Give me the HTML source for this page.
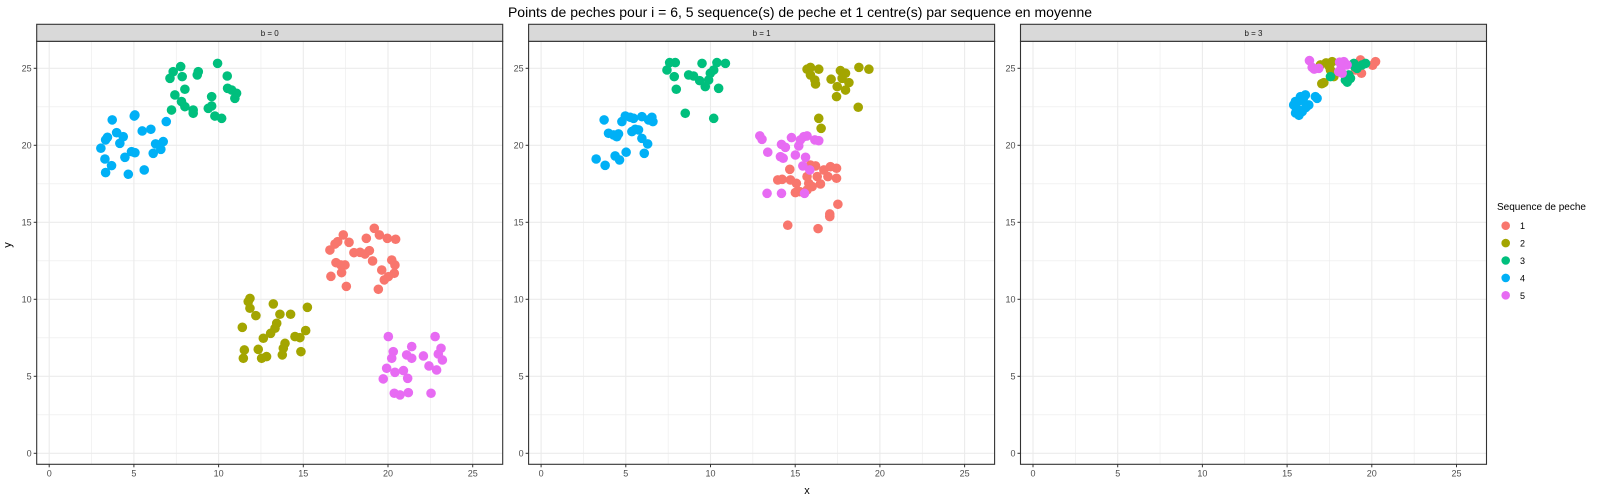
<!DOCTYPE html>
<html><head><meta charset="utf-8"><style>
html,body{margin:0;padding:0;background:#fff;}
svg{display:block;font-family:"Liberation Sans",Arial,sans-serif;}
</style></head><body>
<svg id="chart" width="1600" height="500" viewBox="0 0 1600 500">
<text x="800" y="17" text-anchor="middle" font-size="14" fill="#000">Points de peches pour i = 6, 5 sequence(s) de peche et 1 centre(s) par sequence en moyenne</text>
<text x="807" y="494" text-anchor="middle" font-size="11" fill="#000">x</text>
<text x="11" y="245" text-anchor="middle" font-size="11" fill="#000" transform="rotate(-90 11 245)">y</text>
<g id="panels"></g>
<g id="legend"></g>
</svg>
<script>
const panelLabels = ['b = 0', 'b = 1', 'b = 3'];
const seqLabels = ['1', '2', '3', '4', '5'];
const tickValues = [0, 5, 10, 15, 20, 25];
const colors = ['#F8766D', '#A3A500', '#00BF7D', '#00B0F6', '#E76BF3'];

// b = 0
const b0X = [
 [16.57,16.87,17.03,17.36,17.70,18.72,19.19,19.49,19.96,20.45,17.99,18.35,18.64,18.90,19.09,16.93,17.22,17.46,17.26,16.63,17.54,19.63,20.22,20.41,20.37,20.02,19.78,19.43],
 [11.85,11.75,11.85,12.20,11.40,13.23,13.62,14.25,15.24,13.43,13.33,13.07,12.64,11.52,11.46,12.34,12.54,12.83,13.92,13.82,13.76,14.51,14.80,15.14,14.86],
 [9.94,10.51,8.80,8.74,7.76,7.32,7.13,7.85,8.01,7.42,7.81,8.01,7.22,8.50,8.50,9.59,9.39,9.59,9.78,10.18,10.53,10.77,11.06,10.96],
 [3.72,5.02,5.06,5.49,6.00,6.91,3.98,4.37,4.17,3.44,3.33,3.05,3.29,3.68,3.33,4.67,5.61,4.47,4.86,5.06,6.14,6.28,6.73,6.59],
 [20.02,22.78,20.31,21.40,20.22,21.10,21.40,22.09,22.97,23.13,23.21,19.92,20.41,20.91,21.16,19.72,22.42,22.87,20.37,20.71,21.20,22.54]
];
const b0Y = [
 [13.20,13.59,13.74,14.18,13.70,13.96,14.61,14.18,13.96,13.90,13.03,13.05,12.94,13.16,12.49,12.38,12.23,12.23,11.73,11.49,10.84,11.90,12.55,12.23,11.69,11.47,11.26,10.65],
 [10.06,9.85,9.42,8.94,8.18,9.70,9.03,9.03,9.48,8.44,8.12,7.79,7.47,6.71,6.17,6.75,6.17,6.28,7.14,6.82,6.39,7.58,7.51,7.97,6.60],
 [25.32,24.50,24.78,24.57,25.11,24.78,24.35,24.46,23.64,23.27,22.84,22.51,22.29,22.29,22.08,23.16,22.40,22.55,21.90,21.75,23.70,23.59,23.38,23.05],
 [21.65,21.90,21.97,20.93,21.04,21.54,20.82,20.56,20.13,20.52,20.35,19.81,19.11,18.68,18.23,18.12,18.40,19.22,19.59,19.52,19.48,20.09,20.24,19.74],
 [7.58,7.58,6.60,6.93,6.17,6.39,6.17,6.32,6.45,6.82,6.06,5.52,5.26,5.37,4.87,4.83,5.67,5.41,3.90,3.79,3.94,3.90]
];
// b = 1
const b1X = [
 [13.97,14.23,14.68,14.72,15.07,15.01,15.27,15.70,15.80,15.90,16.20,16.00,16.30,16.49,16.69,17.08,17.44,16.93,17.44,17.52,17.04,17.04,14.56,16.35,15.70],
 [15.70,15.90,16.39,15.90,16.16,16.20,17.12,17.67,17.97,17.77,18.17,17.48,17.97,17.44,18.76,19.35,18.72,16.39,16.53],
 [7.43,7.59,7.92,7.86,7.98,8.51,8.71,9.00,9.36,9.50,9.69,9.89,9.99,10.19,10.38,10.48,10.88,10.19],
 [3.72,3.98,4.28,4.47,4.57,4.77,4.97,5.26,5.46,5.36,5.56,5.75,5.95,6.29,5.95,6.34,6.54,6.60,6.09,5.02,4.37,4.63,3.25,3.78],
 [12.91,13.04,13.38,14.19,14.42,14.13,14.29,14.78,15.01,15.21,15.31,15.51,15.70,16.16,16.39,15.61,15.45,15.86,13.34,14.19,15.55]
];
const b1Y = [
 [17.75,17.79,18.44,17.75,17.53,16.93,16.99,17.97,17.53,18.72,18.66,17.32,17.97,17.49,18.40,18.61,18.51,17.97,17.86,16.17,15.54,15.37,14.81,14.59,17.10],
 [24.94,25.06,24.94,24.57,24.24,23.98,24.29,24.85,24.68,24.35,24.07,23.81,23.59,23.16,25.06,24.94,22.47,21.75,21.10],
 [24.89,25.37,25.37,24.46,23.64,22.08,24.57,24.50,24.20,25.32,23.81,24.24,24.68,24.89,25.37,23.70,25.32,21.75],
 [21.65,20.78,20.67,20.56,20.74,21.54,21.90,21.82,21.75,20.89,21.04,21.00,20.45,20.09,21.86,21.65,21.82,21.54,19.48,19.55,19.31,19.05,19.11,18.70],
 [20.61,20.39,19.55,20.06,19.87,19.26,19.16,20.50,19.37,19.96,20.35,20.56,20.61,20.35,20.30,19.22,18.66,18.40,16.88,16.88,16.88]
];
// b = 3
const b3X = [
 [19.33,19.39,20.22,19.04,19.50,20.05],
 [17.17,17.46,17.66,17.56,17.76,16.97,17.30,17.50,17.05],
 [17.56,18.44,18.74,18.94,19.13,19.43,19.63,18.64,18.55,19.00],
 [15.49,15.79,16.08,15.69,15.59,15.89,16.28,16.67,16.77,15.39,15.55,15.75,15.95,16.10,15.70,15.50],
 [16.32,16.48,16.87,18.15,18.35,18.54,18.05,18.25,16.60,18.20,18.40,18.10]
];
const b3Y = [
 [25.54,24.68,25.43,24.89,25.30,25.20],
 [24.07,25.22,25.43,24.89,24.46,25.22,25.35,25.10,24.00],
 [24.46,24.24,24.35,25.32,25.00,25.22,25.32,24.57,24.10,25.10],
 [22.84,23.16,23.27,22.29,22.08,22.19,22.62,23.16,23.05,22.62,22.40,22.90,23.00,22.45,21.95,22.10],
 [25.50,25.06,25.00,25.32,25.43,25.22,24.78,24.68,24.95,25.05,25.25,25.40]
];
const panelX = [b0X, b1X, b3X];
const panelY = [b0Y, b1Y, b3Y];

const NS = 'http://www.w3.org/2000/svg';
function mk(tag, attrs, parent) {
  const el = document.createElementNS(NS, tag);
  for (const k in attrs) el.setAttribute(k, attrs[k]);
  parent.appendChild(el);
  return el;
}
const plotTop = 41.3, plotBottom = 464.3, panelW = 466, panelStep = 491.9, firstLeft = 36.7;
const xUnit = 16.94, yUnit = 15.4;
function xScale(p, v) { return firstLeft + p * panelStep + 12.5 + v * xUnit; }
function yScale(v) { return 453.3 - v * yUnit; }

const panelsG = document.getElementById('panels');
panelLabels.forEach((lab, p) => {
  const left = firstLeft + p * panelStep;
  const g = mk('g', {}, panelsG);
  
  
  mk('rect', {x: left, y: plotTop, width: panelW, height: plotBottom - plotTop, fill: '#fff'}, g);
  for (let v = 2.5; v < 27; v += 5) {
    mk('line', {x1: xScale(p, v), x2: xScale(p, v), y1: plotTop, y2: plotBottom, stroke: '#ebebeb', 'stroke-width': 0.6}, g);
    mk('line', {x1: left, x2: left + panelW, y1: yScale(v), y2: yScale(v), stroke: '#ebebeb', 'stroke-width': 0.6}, g);
  }
  tickValues.forEach(v => {
    mk('line', {x1: xScale(p, v), x2: xScale(p, v), y1: plotTop, y2: plotBottom, stroke: '#ebebeb', 'stroke-width': 1.1}, g);
    mk('line', {x1: left, x2: left + panelW, y1: yScale(v), y2: yScale(v), stroke: '#ebebeb', 'stroke-width': 1.1}, g);
    mk('line', {x1: xScale(p, v), x2: xScale(p, v), y1: plotBottom, y2: plotBottom + 3, stroke: '#333', 'stroke-width': 1}, g);
    mk('line', {x1: left - 3, x2: left, y1: yScale(v), y2: yScale(v), stroke: '#333', 'stroke-width': 1}, g);
    const xt = mk('text', {x: xScale(p, v), y: plotBottom + 12, 'text-anchor': 'middle', 'font-size': 9, fill: '#4d4d4d'}, g);
    xt.textContent = v;
    
    
    const yt = mk('text', {x: left - 5, y: yScale(v) + 3, 'text-anchor': 'end', 'font-size': 9, fill: '#4d4d4d'}, g);
    yt.textContent = v;
    
    
  });
  const xs = panelX[p], ys = panelY[p];
  xs.forEach((arr, s) => {
    arr.forEach((xv, i) => {
      const c = mk('circle', {cx: xScale(p, xv), cy: yScale(ys[s][i]), r: 4.8, fill: colors[s]}, g);
      
      
    });
  });
  mk('rect', {x: left, y: plotTop, width: panelW, height: plotBottom - plotTop, fill: 'none', stroke: '#333', 'stroke-width': 1.1}, g);
  const strip = mk('rect', {x: left, y: 24.3, width: panelW, height: 17, fill: '#d9d9d9', stroke: '#333', 'stroke-width': 1.1}, g);
  
  
  const st = mk('text', {x: left + panelW / 2, y: 36, 'text-anchor': 'middle', 'font-size': 8, fill: '#1a1a1a'}, g);
  st.textContent = lab;
  
  
});

const lg = document.getElementById('legend');
const lt = mk('text', {x: 1497, y: 210, 'font-size': 10, fill: '#000'}, lg);
lt.textContent = 'Sequence de peche';


seqLabels.forEach((s, i) => {
  const cy = 225.7 + i * 17.4;
  const e = mk('g', {}, lg);
  
  
  mk('circle', {cx: 1505.7, cy: cy, r: 4.3, fill: colors[i]}, e);
  const t = mk('text', {x: 1520, y: cy + 3.5, 'font-size': 9, fill: '#000'}, e);
  t.textContent = s;
});
</script>
</body></html>
